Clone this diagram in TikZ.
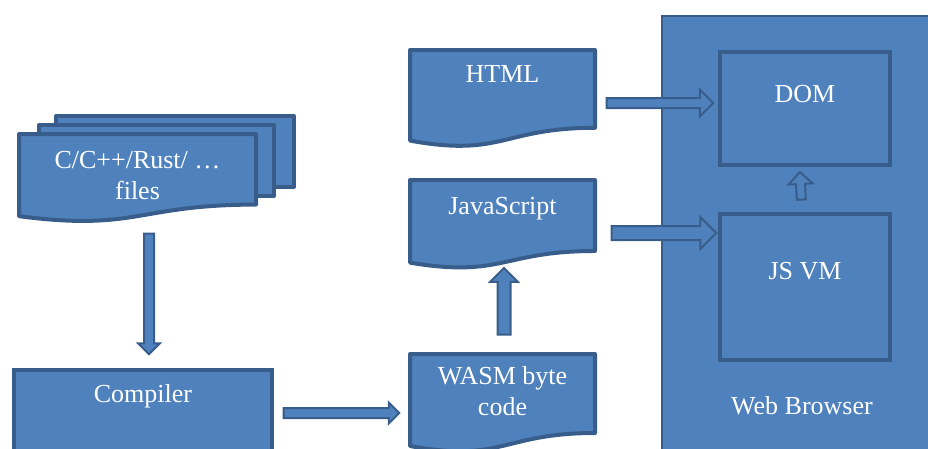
\documentclass[tikz,border=0pt]{standalone}
\usepackage{fontspec}
\setmainfont{Liberation Serif}
\usetikzlibrary{positioning,calc,shapes.arrows,backgrounds}

\definecolor{boxfill}{HTML}{4F81BD}
\definecolor{boxline}{HTML}{385D8A}

\tikzset{
  box/.style={draw=boxline, fill=boxfill, line width=4pt, inner sep=0pt,
    outer sep=0pt, anchor=north west, text=white,
    font=\fontsize{26}{31}\selectfont},
  docarea/.style={inner sep=0pt, outer sep=0pt, anchor=north west,
    text=white, align=center, font=\fontsize{26}{31}\selectfont},
  docline/.style={draw=boxline, fill=boxfill, line width=4pt, line join=round},
  blockarrow/.style 2 args={to path={
    let \p1=(\tikztostart), \p2=(\tikztotarget),
        \n1={veclen(\x2-\x1,\y2-\y1)}, \n2={atan2(\y2-\y1,\x2-\x1)} in
    node[single arrow, draw=boxline, fill=boxfill, line width=2pt,
         inner xsep=0pt, inner ysep=#1, outer sep=0pt,
         single arrow head extend=#2, minimum height=\n1-2.4,
         rotate=\n2] at ($(\p1)!0.5!(\p2)$) {}}}
}

% wavy bottom of a document box, drawn from its node
\newcommand{\docoutline}[1]{%
  \draw[docline] (#1.north west) -- (#1.north east)
    -- ($(#1.north east)!0.802!(#1.south east)$)
    .. controls ($(#1.north)!0.802!(#1.south)$) and ($(#1.north)!1.108!(#1.south)$)
    .. ($(#1.north west)!0.934!(#1.south west)$) -- cycle;}

\begin{document}
\begin{tikzpicture}[x=1pt, y=-1pt]

    \useasboundingbox (0,0) rectangle (928,448);
    \clip (0,0) rectangle (928,448);

    % ============================================================
    % WEB BROWSER
    % ============================================================
    \node[box, line width=2.5pt, minimum width=280pt, text height=398pt,
        text depth=56pt] (browser) at (662,16) {Web Browser};
    \node[box, minimum width=170pt, text height=50pt, text depth=63pt]
        (dom) at (720,52) {DOM};
    \node[box, minimum width=170pt, text height=65pt, text depth=81pt,
        below=49pt of dom.south west, anchor=north west] (jsvm) {JS VM};

    % ============================================================
    % SOURCES AND BUILD
    % ============================================================
    \node[docarea, minimum width=237pt, text height=65pt, text depth=23pt]
        (files) at (19,134) {C/C++/Rust/ …\\files};
    \node[box, minimum width=258pt, text height=32pt, text depth=54pt]
        (compiler) at (14,370) {Compiler};

    \node[docarea, minimum width=185pt, text height=32pt, text depth=65pt]
        (html) at (410,50) {HTML};
    \node[docarea, minimum width=185pt, text height=34pt, text depth=54.5pt,
        below=33pt of html.south west, anchor=north west] (javascript) {JavaScript};
    \node[docarea, minimum width=185pt, text height=61pt, text depth=37.5pt]
        (wasm) at (410,354) {WASM byte\\code};

    \begin{pgfonlayer}{background}
        \draw[docline] ($(files.north west)+(37,-18)$) rectangle ($(files.north east)+(38,53)$);
        \draw[docline] ($(files.north west)+(20,-9)$) rectangle ($(files.north east)+(18,62)$);
        \docoutline{files}
        \docoutline{html}
        \docoutline{javascript}
        \docoutline{wasm}
    \end{pgfonlayer}

    % ============================================================
    % FLOW
    % ============================================================
    \draw[blockarrow={4pt}{6pt}]
        ($(files.south)+(11.5,8)$) to ($(compiler.north)+(6,-17)$);
    \draw[blockarrow={4pt}{5.5pt}]
        ($(compiler.east)+(8,0)$) to ($(compiler.east -| wasm.west)+(-12,0)$);
    \draw[blockarrow={5.5pt}{7.5pt}]
        ($(wasm.north)+(1.5,-15)$) to ($(javascript.south)+(1.5,1.5)$);
    \draw[blockarrow={4pt}{8.5pt}]
        ($(html.east)+(8,4.5)$) to ($(dom.west)+(-8,-5.5)$);
    \draw[blockarrow={6pt}{9pt}]
        ($(javascript.east)+(12,8.75)$) to ($(jsvm.west)+(-6,-54)$);
    \draw[blockarrow={3.5pt}{7.5pt}]
        ($(jsvm.north)+(-3.5,-11)$) to ($(dom.south)+(-5,8)$);

\end{tikzpicture}
\end{document}
